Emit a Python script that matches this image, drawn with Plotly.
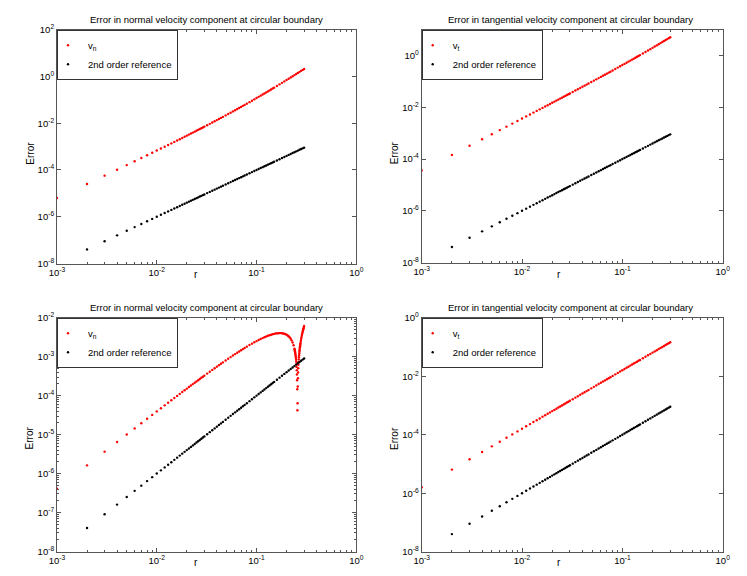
import plotly.graph_objects as go

# ---------------- data ----------------
r = [0.001, 0.002, 0.003, 0.004, 0.005, 0.006, 0.007, 0.008, 0.009, 0.010,
     0.011, 0.012, 0.013, 0.014, 0.015, 0.016, 0.017, 0.018, 0.019, 0.020,
     0.021, 0.022, 0.023, 0.024, 0.025, 0.026, 0.027, 0.028, 0.029, 0.030,
     0.032, 0.034, 0.036, 0.038, 0.040, 0.042, 0.044, 0.046,
     0.049, 0.052, 0.055, 0.058, 0.061, 0.064, 0.067, 0.070, 0.073, 0.076,
     0.080, 0.085, 0.090, 0.095, 0.100, 0.105, 0.110, 0.115, 0.120, 0.125,
     0.130, 0.135, 0.140, 0.145, 0.150,
     0.160, 0.170, 0.180, 0.190, 0.200, 0.210, 0.220, 0.230, 0.240, 0.250,
     0.260, 0.270, 0.280, 0.290, 0.300]

err_ref = [None, 4e-8, 9e-8, 1.6e-7, 2.5e-7, 3.6e-7, 4.9e-7, 6.4e-7, 8.1e-7, 1e-6,
           1.21e-6, 1.44e-6, 1.69e-6, 1.96e-6, 2.25e-6, 2.56e-6, 2.89e-6, 3.24e-6, 3.61e-6, 4e-6,
           4.41e-6, 4.84e-6, 5.29e-6, 5.76e-6, 6.25e-6, 6.76e-6, 7.29e-6, 7.84e-6, 8.41e-6, 9e-6,
           1.024e-5, 1.156e-5, 1.296e-5, 1.444e-5, 1.6e-5, 1.764e-5, 1.936e-5, 2.116e-5,
           2.401e-5, 2.704e-5, 3.025e-5, 3.364e-5, 3.721e-5, 4.096e-5, 4.489e-5, 4.9e-5, 5.329e-5, 5.776e-5,
           6.4e-5, 7.225e-5, 8.1e-5, 9.025e-5, 1e-4, 1.1025e-4, 1.21e-4, 1.3225e-4, 1.44e-4, 1.5625e-4,
           1.69e-4, 1.8225e-4, 1.96e-4, 2.1025e-4, 2.25e-4,
           2.56e-4, 2.89e-4, 3.24e-4, 3.61e-4, 4e-4, 4.41e-4, 4.84e-4, 5.29e-4, 5.76e-4, 6.25e-4,
           6.76e-4, 7.29e-4, 7.84e-4, 8.41e-4, 9e-4]

err_vn_top = [6.3e-6, 2.526e-5, 5.734e-5, 1.029e-4, 1.621e-4, 2.355e-4, 3.234e-4, 4.26e-4, 5.438e-4, 6.77e-4,
              8.261e-4, 9.913e-4, 1.173e-3, 1.372e-3, 1.587e-3, 1.821e-3, 2.072e-3, 2.341e-3, 2.629e-3, 2.936e-3,
              3.262e-3, 3.608e-3, 3.973e-3, 4.359e-3, 4.766e-3, 5.193e-3, 5.642e-3, 6.112e-3, 6.604e-3, 7.119e-3,
              8.217e-3, 9.408e-3, 0.010695, 0.012081, 0.013568, 0.01516, 0.016859, 0.018667,
              0.021592, 0.02478, 0.028238, 0.031978, 0.036008, 0.040337, 0.044975, 0.049931, 0.055214, 0.060833,
              0.068864, 0.0798, 0.091773, 0.10483, 0.119, 0.13434, 0.15089, 0.16869, 0.18778, 0.2082,
              0.23001, 0.25324, 0.27793, 0.30413, 0.33188,
              0.39219, 0.45922, 0.5333, 0.61478, 0.704, 0.8013, 0.90702, 1.0215, 1.1451, 1.2781,
              1.421, 1.5739, 1.7373, 1.9116, 2.097]

err_vt_top = [3.61e-5, 1.446e-4, 3.259e-4, 5.804e-4, 9.086e-4, 1.311e-3, 1.788e-3, 2.339e-3, 2.966e-3, 3.669e-3,
              4.448e-3, 5.303e-3, 6.236e-3, 7.245e-3, 8.333e-3, 9.499e-3, 0.010743, 0.012066, 0.013469, 0.014952,
              0.016515, 0.018159, 0.019884, 0.02169, 0.023578, 0.025549, 0.027602, 0.029739, 0.031959, 0.034263,
              0.039125, 0.044328, 0.049875, 0.05577, 0.062016, 0.068616, 0.075574, 0.082892,
              0.094554, 0.10705, 0.12038, 0.13457, 0.14962, 0.16554, 0.18236, 0.20007, 0.21869, 0.23823,
              0.26573, 0.30248, 0.3419, 0.38406, 0.429, 0.47678, 0.52744, 0.58104, 0.63763, 0.69727,
              0.75999, 0.82587, 0.89494, 0.96726, 1.0429,
              1.2042, 1.3794, 1.5688, 1.7729, 1.992, 2.2266, 2.4771, 2.7439, 3.0275, 3.3281,
              3.6463, 3.9825, 4.3371, 4.7104, 5.103]

err_vt_bottom = [1.6e-6, 6.4e-6, 1.44e-5, 2.56e-5, 4.0e-5, 5.76e-5, 7.84e-5, 1.024e-4, 1.296e-4, 1.6e-4,
                 1.936e-4, 2.304e-4, 2.704e-4, 3.136e-4, 3.6e-4, 4.096e-4, 4.624e-4, 5.184e-4, 5.776e-4, 6.4e-4,
                 7.056e-4, 7.744e-4, 8.464e-4, 9.216e-4, 1.0e-3, 1.0816e-3, 1.1664e-3, 1.2544e-3, 1.3456e-3, 1.44e-3,
                 1.6384e-3, 1.8496e-3, 2.0736e-3, 2.3104e-3, 2.56e-3, 2.8224e-3, 3.0976e-3, 3.3856e-3,
                 3.8416e-3, 4.3264e-3, 4.84e-3, 5.3824e-3, 5.9536e-3, 6.5536e-3, 7.1824e-3, 7.84e-3, 8.5264e-3, 9.2416e-3,
                 0.01024, 0.01156, 0.01296, 0.01444, 0.016, 0.01764, 0.01936, 0.02116, 0.02304, 0.025,
                 0.02704, 0.02916, 0.03136, 0.03364, 0.036,
                 0.04096, 0.04624, 0.05184, 0.05776, 0.064, 0.07056, 0.07744, 0.08464, 0.09216, 0.1,
                 0.10816, 0.11664, 0.12544, 0.13456, 0.144]

r_bl = [0.001, 0.002, 0.003, 0.004, 0.005, 0.006, 0.007, 0.008, 0.009, 0.010,
        0.011, 0.012, 0.013, 0.014, 0.015, 0.016, 0.017, 0.018, 0.019, 0.020,
        0.021, 0.022, 0.023, 0.024, 0.025, 0.026, 0.027, 0.028, 0.029, 0.030,
        0.032, 0.034, 0.036, 0.038, 0.040, 0.042, 0.044, 0.046,
        0.049, 0.052, 0.055, 0.058, 0.061, 0.064, 0.067, 0.070, 0.073, 0.076,
        0.080, 0.085, 0.090, 0.095, 0.100, 0.105, 0.110, 0.115, 0.120, 0.125,
        0.130, 0.135, 0.140, 0.145, 0.150,
        0.155, 0.160, 0.165, 0.170, 0.175, 0.180, 0.185, 0.190, 0.195, 0.200,
        0.205, 0.210, 0.215, 0.220, 0.225, 0.230, 0.235, 0.240,
        0.241, 0.242, 0.243, 0.244, 0.245, 0.246, 0.247, 0.248, 0.249, 0.250,
        0.251, 0.252, 0.253, 0.254, 0.255, 0.256, 0.257, 0.258, 0.259, 0.260,
        0.261, 0.262, 0.263, 0.264, 0.265, 0.266, 0.267, 0.268, 0.269, 0.270,
        0.271, 0.272, 0.273, 0.274, 0.275,
        0.276, 0.278, 0.280, 0.282, 0.284, 0.286, 0.288, 0.290, 0.292, 0.294,
        0.296, 0.298, 0.300]

err_vn_bottom = [4.084e-7, 1.627e-6, 3.647e-6, 6.458e-6, 1.0051e-5, 1.4416e-5, 1.9544e-5, 2.5425e-5, 3.205e-5, 3.9408e-5,
                 4.749e-5, 5.629e-5, 6.579e-5, 7.599e-5, 8.688e-5, 9.844e-5, 1.1067e-4, 1.2355e-4, 1.3709e-4, 1.5126e-4,
                 1.6606e-4, 1.8148e-4, 1.9752e-4, 2.1415e-4, 2.3137e-4, 2.4917e-4, 2.6755e-4, 2.8648e-4, 3.0597e-4, 3.26e-4,
                 3.6766e-4, 4.1137e-4, 4.5706e-4, 5.0465e-4, 5.5408e-4, 6.0525e-4, 6.5809e-4, 7.1254e-4,
                 7.9704e-4, 8.847e-4, 9.7527e-4, 1.0685e-3, 1.1641e-3, 1.2618e-3, 1.3615e-3, 1.4627e-3, 1.5653e-3, 1.669e-3,
                 1.8085e-3, 1.9841e-3, 2.1599e-3, 2.3346e-3, 2.5072e-3, 2.6764e-3, 2.841e-3, 2.9998e-3, 3.1517e-3, 3.2953e-3,
                 3.4296e-3, 3.5534e-3, 3.6653e-3, 3.7643e-3, 3.8492e-3,
                 3.9188e-3, 3.9718e-3, 4.0071e-3, 4.0234e-3, 4.0197e-3, 3.9946e-3, 3.947e-3, 3.8757e-3, 3.7796e-3, 3.6573e-3,
                 3.5077e-3, 3.3297e-3, 3.122e-3, 2.8834e-3, 2.6128e-3, 2.3089e-3, 1.9705e-3, 1.5965e-3,
                 1.5173e-3, 1.4366e-3, 1.3545e-3, 1.2708e-3, 1.1856e-3, 1.0989e-3, 1.0107e-3, 9.209e-4, 8.296e-4, 7.367e-4,
                 6.423e-4, 5.462e-4, 4.486e-4, 3.494e-4, 2.486e-4, 1.4615e-4, 4.208e-5, 6.362e-5, 1.7097e-4, 2.7997e-4,
                 3.9064e-4, 5.0298e-4, 6.17e-4, 7.327e-4, 8.502e-4, 9.693e-4, 1.0901e-3, 1.2127e-3, 1.3371e-3, 1.4631e-3,
                 1.591e-3, 1.7206e-3, 1.852e-3, 1.9852e-3, 2.1202e-3,
                 2.2569e-3, 2.536e-3, 2.8224e-3, 3.1162e-3, 3.4175e-3, 3.7264e-3, 4.0429e-3, 4.3672e-3, 4.6993e-3, 5.0393e-3,
                 5.3872e-3, 5.7431e-3, 6.1072e-3]

x_tickvals = [1e-3, 1e-2, 1e-1, 1e0]
x_ticktext = ["10<sup>-3</sup>", "10<sup>-2</sup>", "10<sup>-1</sup>", "10<sup>0</sup>"]
x_minor = [m * 10.0 ** e for e in (-3, -2, -1) for m in range(2, 10)]

titles = ["Error in normal velocity component at circular boundary",
          "Error in tangential velocity component at circular boundary",
          "Error in normal velocity component at circular boundary",
          "Error in tangential velocity component at circular boundary"]

# ---------------- layout helpers ----------------
W, H = 747, 576
FONT = "Liberation Sans, Arial, Helvetica, sans-serif"
AX = "#555555"


def px(x):
    return x / W


def py(y):
    return 1 - y / H


panels = [
    # (x0, x1, ytop, ybot) in pixels
    (49.0, 348.3, 21.7, 255.5),
    (413.7, 714.7, 21.7, 254.5),
    (49.0, 348.3, 309.7, 543.5),
    (413.7, 714.7, 309.7, 543.7),
]

ydecs = [
    (-8, 2, [-8, -6, -4, -2, 0, 2], False),
    (-8, 1, [-8, -6, -4, -2, 0], False),
    (-8, -2, [-8, -7, -6, -5, -4, -3, -2], True),
    (-8, 0, [-8, -6, -4, -2, 0], False),
]

fig = go.Figure()

series = [
    ("v<sub>n</sub>", r, err_vn_top),
    ("v<sub>t</sub>", r, err_vt_top),
    ("v<sub>n</sub>", r_bl, err_vn_bottom),
    ("v<sub>t</sub>", r, err_vt_bottom),
]

layout = dict(
    width=W, height=H, autosize=False,
    margin=dict(l=0, r=0, t=0, b=0, autoexpand=False),
    paper_bgcolor="white", plot_bgcolor="white",
    font=dict(family=FONT, size=9.5, color="black"),
    showlegend=True,
)

annotations = []

for i, ((x0, x1, yt, yb), (ylo, yhi, ylabs, yminor), (nm, rx, ry)) in enumerate(zip(panels, ydecs, series)):
    n = i + 1
    sfx = "" if n == 1 else str(n)
    lg = "legend" if n == 1 else "legend%d" % n
    fig.add_trace(go.Scatter(x=rx, y=ry, mode="markers", name=nm,
                             marker=dict(color="#ff0000", size=2.4, line=dict(width=0)),
                             xaxis="x" + sfx, yaxis="y" + sfx, legend=lg, cliponaxis=True))
    fig.add_trace(go.Scatter(x=r, y=err_ref, mode="markers", name="2nd order reference",
                             marker=dict(color="black", size=2.4, line=dict(width=0)),
                             xaxis="x" + sfx, yaxis="y" + sfx, legend=lg, cliponaxis=True))

    common = dict(type="log", showline=True, linecolor=AX, linewidth=1, mirror="allticks",
                  ticks="inside", ticklen=4, tickcolor=AX, tickwidth=1,
                  showgrid=False, zeroline=False, automargin=False,
                  tickfont=dict(family=FONT, size=9.5, color="black"),
                  tickmode="array")
    xa = dict(common)
    xa.update(domain=[px(x0), px(x1)], range=[-3, 0], anchor="y" + sfx,
              tickvals=x_tickvals, ticktext=x_ticktext,
              minor=dict(ticks="inside", ticklen=2, tickcolor=AX, tickmode="array",
                         tickvals=x_minor, showgrid=False))
    ya = dict(common)
    ya.update(domain=[py(yb), py(yt)], range=[ylo, yhi], anchor="x" + sfx,
              tickvals=[10.0 ** d for d in ylabs],
              ticktext=["10<sup>%d</sup>" % d for d in ylabs])
    if yminor:
        ya["minor"] = dict(ticks="inside", ticklen=2, tickcolor=AX, tickmode="array",
                           tickvals=[m * 10.0 ** e for e in range(ylo, yhi) for m in range(2, 10)],
                           showgrid=False)
    layout["xaxis" + sfx] = xa
    layout["yaxis" + sfx] = ya

    layout[lg] = dict(x=px(x0), y=py(yt), xanchor="left", yanchor="top",
                      bgcolor="white", bordercolor="#333333", borderwidth=1,
                      font=dict(family=FONT, size=9.5, color="black"),
                      indentation=-10, itemwidth=30, tracegroupgap=0)

# titles and axis labels
title_pos = [(198.6, 11.7), (562.5, 11.7), (198.6, 299.7), (562.5, 299.7)]
ylab_pos = [(21.7, 145.0), (386.3, 145.0), (21.7, 429.7), (386.3, 430.7)]
xlab_pos = [(188.3, 266.7), (551.3, 266.7), (188.3, 554.7), (551.3, 554.7)]
for t, (tx, ty), (lx, ly), (rx_, ry_) in zip(titles, title_pos, ylab_pos, xlab_pos):
    annotations.append(dict(text=t, x=px(tx), y=py(ty), xref="paper", yref="paper",
                            xanchor="center", yanchor="middle", showarrow=False,
                            font=dict(family=FONT, size=9.5, color="black")))
    annotations.append(dict(text="Error", x=px(lx), y=py(ly), xref="paper", yref="paper",
                            xanchor="center", yanchor="middle", showarrow=False, textangle=-90,
                            font=dict(family=FONT, size=10, color="black")))
    annotations.append(dict(text="r", x=px(rx_), y=py(ry_), xref="paper", yref="paper",
                            xanchor="center", yanchor="middle", showarrow=False,
                            font=dict(family=FONT, size=10, color="black")))

layout["annotations"] = annotations
fig.update_layout(**layout)

fig.write_html("out.html")
